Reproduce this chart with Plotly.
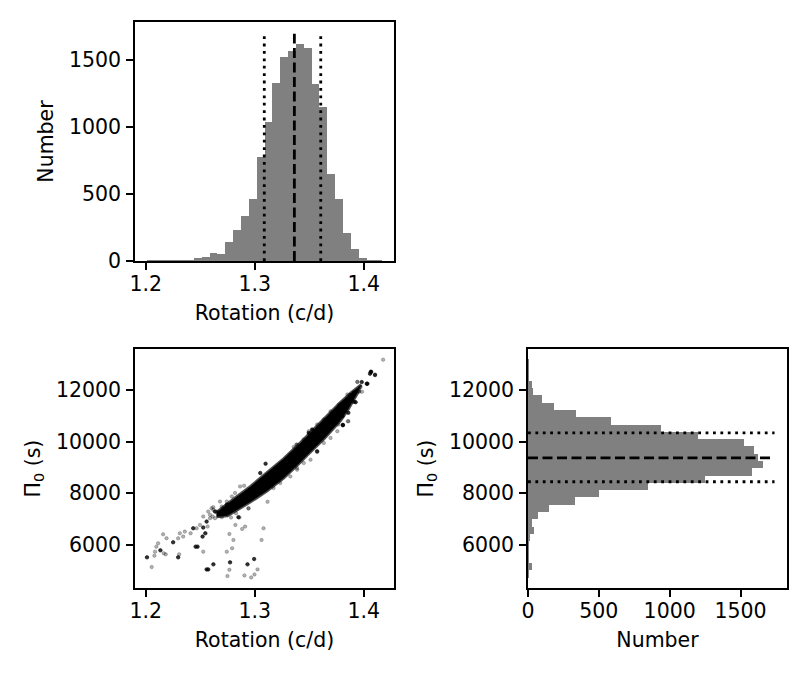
import plotly.graph_objects as go

# ---- top histogram: rotation (c/d) ----
rot_centers = [1.2046, 1.2118, 1.2190, 1.2262, 1.2334, 1.2406, 1.2478, 1.2550, 1.2622, 1.2694,
               1.2766, 1.2838, 1.2910, 1.2982, 1.3054, 1.3126, 1.3198, 1.3270, 1.3342, 1.3414,
               1.3486, 1.3558, 1.3630, 1.3702, 1.3774, 1.3846, 1.3918, 1.3990, 1.4062, 1.4134]
rot_counts = [3, 4, 4, 3, 6, 6, 20, 28, 58, 50,
              140, 230, 335, 465, 777, 1040, 1332, 1522, 1572, 1617,
              1592, 1325, 1152, 650, 465, 208, 88, 22, 3, 2]
rot_binw = 0.0072
rot_med, rot_lo, rot_hi = 1.3364, 1.3088, 1.3606
rot_line_top = 1698

# ---- right histogram: Pi_0 (s) ----
pi_centers = [4855, 5138, 5421, 5705, 5988, 6271, 6555, 6838, 7121, 7405,
              7688, 7971, 8255, 8538, 8821, 9105, 9388, 9671, 9955, 10238,
              10521, 10805, 11088, 11371, 11655, 11938, 12221, 12505, 12788, 13071]
pi_counts = [5, 28, 5, 7, 6, 10, 42, 28, 71, 149,
             333, 504, 844, 1248, 1581, 1659, 1624, 1596, 1525, 1199,
             936, 589, 340, 184, 99, 35, 25, 5, 3, 1]
pi_binw = 283.3
pi_med, pi_lo, pi_hi = 9365, 8440, 10339
pi_line_end = 1740

# ---- scatter: dense core outline (upper edge, then lower edge back) ----
core_x = [1.2650, 1.2750, 1.2805, 1.2959, 1.3112, 1.3265, 1.3419, 1.3512, 1.3634, 1.3788, 1.3880, 1.3942, 1.3975,
          1.3942, 1.3911, 1.3850, 1.3788, 1.3634, 1.3481, 1.3419, 1.3265, 1.3112, 1.2959, 1.2836, 1.2750, 1.2650]
core_y = [7250, 7560, 7760, 8250, 8780, 9330, 9950, 10350, 10900, 11530, 11880, 12080, 12200,
          11880, 11650, 11200, 10820, 10100, 9470, 9200, 8580, 8080, 7650, 7330, 7120, 7080]

# ---- scatter: individual dark points ----
dark_x = [1.4068, 1.4058, 1.4104, 1.4028, 1.3880, 1.3911, 1.3859, 1.3809, 1.3100, 1.2458,
          1.2476, 1.2522, 1.2547, 1.2528, 1.2436, 1.2252, 1.2135, 1.2298, 1.2012, 1.2559,
          1.2574, 1.2621, 1.2774, 1.2934, 1.2995, 1.2636, 1.2744, 1.2559, 1.3051, 1.2851,
          1.4065, 1.3982, 1.4034, 1.3926, 1.3809, 1.3527, 1.3496, 1.3573, 1.3804, 1.3911]
dark_y = [12716, 12638, 12586, 12248, 11806, 11547, 11118, 10637, 9142, 5919,
          5919, 6309, 6439, 6660, 6634, 6088, 5776, 5503, 5503, 5035,
          5035, 5230, 5308, 5230, 5438, 7284, 7544, 6894, 8780, 7064,
          12702, 12312, 12250, 11532, 10651, 10468, 10339, 9622, 10986, 11899]

# ---- scatter: individual light points ----
light_x = [1.4178, 1.3942, 1.3972, 1.3960, 1.3985, 1.3859, 1.3726, 1.3696, 1.3634, 1.3573,
           1.3496, 1.3382, 1.3118, 1.2943, 1.2866, 1.2829, 1.2783, 1.2860, 1.2823, 1.2912,
           1.2885, 1.3081, 1.2768, 1.2805, 1.2793, 1.3063, 1.2744, 1.2528, 1.2568, 1.2498,
           1.2467, 1.2412, 1.2359, 1.2344, 1.2313, 1.2298, 1.2191, 1.2160, 1.2114, 1.2098,
           1.2086, 1.2080, 1.2166, 1.2184, 1.2307, 1.2055, 1.2768, 1.3026, 1.2998, 1.2968,
           1.2906, 1.2750, 1.2614, 1.2657, 1.2682, 1.2697, 1.2728, 1.2590, 1.2605, 1.2903,
           1.2820, 1.2744, 1.2943, 1.4104, 1.3942, 1.3957, 1.3850, 1.3818, 1.3855, 1.3767,
           1.3696, 1.3772, 1.3634, 1.3573, 1.3450, 1.3389, 1.3358, 1.3634, 1.3696, 1.3758,
           1.3512, 1.3450, 1.3389, 1.3205, 1.3327, 1.3173, 1.3235, 1.2989, 1.3327, 1.3389,
           1.2866, 1.2790, 1.2682, 1.2620, 1.2574, 1.2528, 1.2620, 1.2651, 1.2590, 1.2713,
           1.2759, 1.2636, 1.2698]
light_y = [13184, 12326, 12118, 11937, 11937, 10793, 11118, 10923, 10663, 9597,
           10403, 9883, 7661, 7414, 7544, 7219, 7050, 7050, 6764, 6699,
           6608, 6634, 6413, 6179, 5854, 6179, 5724, 5724, 6699, 6764,
           6634, 6439, 6504, 6309, 6439, 6244, 6244, 6400, 6049, 5919,
           5724, 5568, 5659, 5620, 5620, 5126, 5022, 5035, 4840, 4723,
           4801, 4775, 7089, 7219, 7284, 7479, 7349, 7024, 7414, 8284,
           8000, 7672, 7399, 12612, 12312, 11961, 11833, 11509, 10792, 10663,
           11181, 11443, 10858, 10663, 10078, 9883, 9793, 9949, 10144, 10402,
           9298, 9170, 8975, 8908, 9493, 8195, 8390, 7867, 8647, 8908,
           8258, 7867, 7672, 7454, 7283, 7088, 7349, 7283, 7154, 7415,
           7544, 7025, 7064]

FONT = dict(family="DejaVu Sans", size=20.5, color="black")
DASH = "10px,4.5px"
DOT = "2.8px,4.6px"

fig = go.Figure()

# top histogram
fig.add_trace(go.Bar(x=rot_centers, y=rot_counts, width=[rot_binw] * len(rot_counts),
                     marker=dict(color="#808080", line=dict(width=0)),
                     xaxis="x", yaxis="y", showlegend=False))
for xv, dash in [(rot_lo, DOT), (rot_med, DASH), (rot_hi, DOT)]:
    fig.add_trace(go.Scatter(x=[xv, xv], y=[0, rot_line_top], mode="lines",
                             line=dict(color="black", width=2.8, dash=dash),
                             xaxis="x", yaxis="y", showlegend=False))

# scatter
fig.add_trace(go.Scatter(x=core_x, y=core_y, mode="lines", fill="toself",
                         fillcolor="black", line=dict(color="rgba(0,0,0,0.7)", width=3),
                         xaxis="x2", yaxis="y2", showlegend=False))
fig.add_trace(go.Scatter(x=light_x, y=light_y, mode="markers",
                         marker=dict(color="rgba(0,0,0,0.3)", size=3.5,
                                     line=dict(color="rgba(0,0,0,0.35)", width=0.6)),
                         xaxis="x2", yaxis="y2", showlegend=False))
fig.add_trace(go.Scatter(x=dark_x, y=dark_y, mode="markers",
                         marker=dict(color="rgba(0,0,0,0.8)", size=3.5,
                                     line=dict(color="black", width=0.6)),
                         xaxis="x2", yaxis="y2", showlegend=False))

# right histogram
fig.add_trace(go.Bar(y=pi_centers, x=pi_counts, width=[pi_binw] * len(pi_counts),
                     orientation="h", marker=dict(color="#808080", line=dict(width=0)),
                     xaxis="x3", yaxis="y3", showlegend=False))
for yv, dash in [(pi_lo, DOT), (pi_med, DASH), (pi_hi, DOT)]:
    fig.add_trace(go.Scatter(x=[0, pi_line_end], y=[yv, yv], mode="lines",
                             line=dict(color="black", width=2.8, dash=dash),
                             xaxis="x3", yaxis="y3", showlegend=False))

ax = dict(showline=True, mirror=True, linecolor="black", linewidth=1.5,
          ticks="outside", ticklen=7, tickwidth=1.5, tickcolor="black",
          showgrid=False, zeroline=False, tickfont=FONT,
          automargin=False, tickformat="d")

# page body adds an 8px offset, so positions are reference px minus 8
OFF = 8
left_dom = [(135 - OFF) / 810, (394 - OFF) / 810]
right_dom = [(528 - OFF) / 810, (787 - OFF) / 810]
top_dom = [1 - (261 - OFF) / 675, 1 - (22 - OFF) / 675]
bot_dom = [1 - (588 - OFF) / 675, 1 - (349 - OFF) / 675]

xt = dict(ticklabelstandoff=-3)
yt = dict(ticklabelstandoff=1)

fig.update_layout(
    width=810, height=675, margin=dict(l=0, r=0, t=0, b=0, autoexpand=False),
    paper_bgcolor="white", plot_bgcolor="white", bargap=0, font=FONT,
    xaxis=dict(ax, **xt, domain=left_dom, anchor="y", range=[1.1902, 1.4278], dtick=0.1,
               tickformat=".1f", title=dict(text="Rotation (c/d)", font=FONT, standoff=10)),
    yaxis=dict(ax, **yt, domain=top_dom, anchor="x", range=[0, 1785], tickvals=[0, 500, 1000, 1500],
               title=dict(text="Number", font=FONT, standoff=10)),
    xaxis2=dict(ax, **xt, domain=left_dom, anchor="y2", range=[1.1902, 1.4278], dtick=0.1,
                tickformat=".1f", title=dict(text="Rotation (c/d)", font=FONT, standoff=10)),
    yaxis2=dict(ax, **yt, domain=bot_dom, anchor="x2", range=[4312, 13598],
                tickvals=[6000, 8000, 10000, 12000],
                title=dict(text="Π<sub>0</sub> (s)", font=FONT, standoff=10)),
    xaxis3=dict(ax, **xt, domain=right_dom, anchor="y3", range=[0, 1828],
                tickvals=[0, 500, 1000, 1500],
                title=dict(text="Number", font=FONT, standoff=10)),
    yaxis3=dict(ax, **yt, domain=bot_dom, anchor="x3", range=[4312, 13598],
                tickvals=[6000, 8000, 10000, 12000],
                title=dict(text="Π<sub>0</sub> (s)", font=FONT, standoff=10)),
)

fig.write_html("out.html")
